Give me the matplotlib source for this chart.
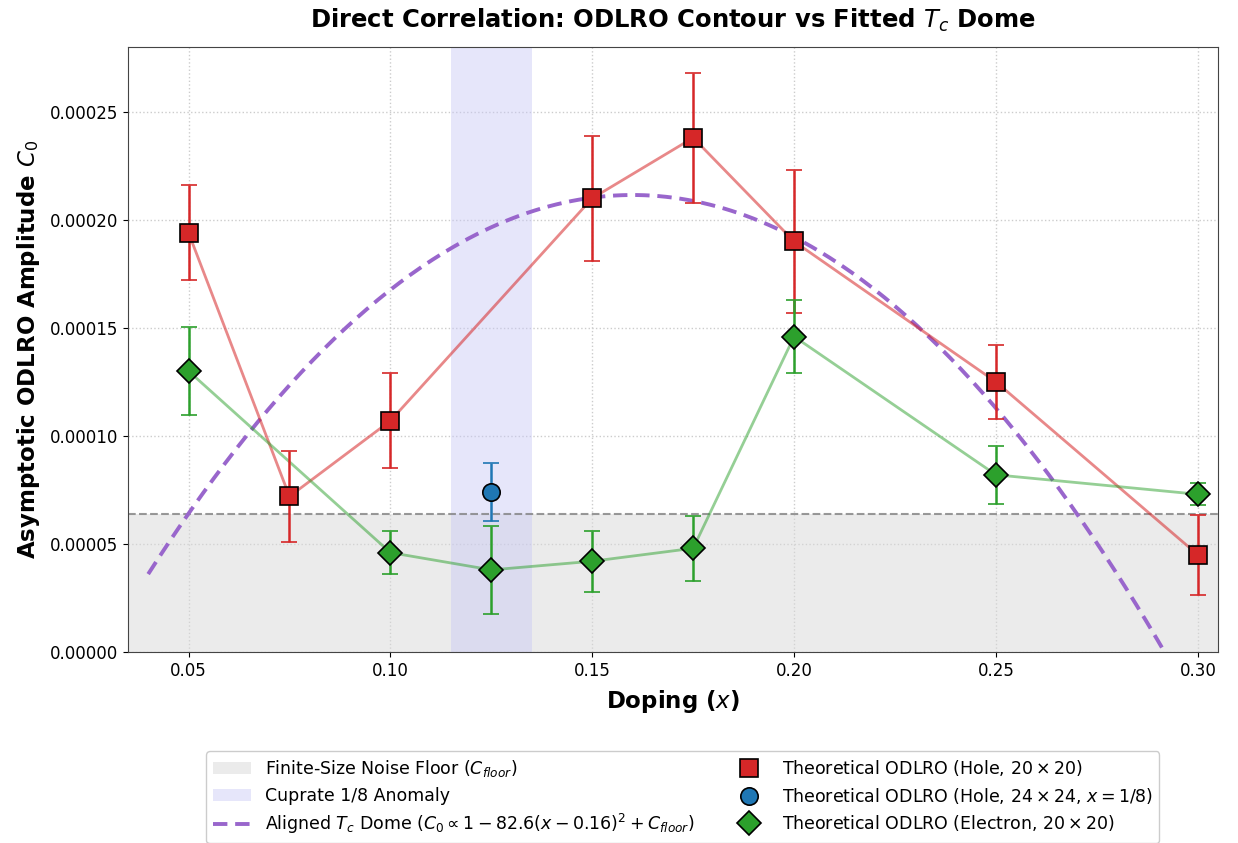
import numpy as np
import matplotlib
matplotlib.use("Agg")
import matplotlib.pyplot as plt
from matplotlib.container import ErrorbarContainer

# Hole-doped 20x20 results
hole_x = [0.05, 0.075, 0.10, 0.15, 0.175, 0.20, 0.25, 0.30]
hole_c0 = [1.94e-4, 7.2e-5, 1.07e-4, 2.10e-4, 2.38e-4, 1.90e-4, 1.25e-4, 4.5e-5]
hole_err = [2.2e-5, 2.1e-5, 2.2e-5, 2.9e-5, 3.0e-5, 3.3e-5, 1.7e-5, 1.85e-5]

# Hole-doped 24x24 at x = 1/8
big_x = [0.125]
big_c0 = [7.4e-5]
big_err = [1.35e-5]

# Electron-doped 20x20 results
elec_x = [0.05, 0.10, 0.125, 0.15, 0.175, 0.20, 0.25, 0.30]
elec_c0 = [1.30e-4, 4.6e-5, 3.8e-5, 4.2e-5, 4.8e-5, 1.46e-4, 8.2e-5, 7.3e-5]
elec_err = [2.05e-5, 1.0e-5, 2.05e-5, 1.4e-5, 1.5e-5, 1.7e-5, 1.35e-5, 5e-6]

c_floor = 6.4e-5
dome_amp = 1.475e-4
dome_curv = 82.6
dome_center = 0.16

fig = plt.figure(figsize=(12.38, 8.43), dpi=100)
ax = fig.add_axes([128 / 1238, 1 - 652 / 843, (1218 - 128) / 1238, (652 - 47) / 843])

ax.axhspan(0, c_floor, color="#d9d9d9", alpha=0.5, lw=0, label=r"Finite-Size Noise Floor ($C_{floor}$)")
ax.axhline(c_floor, color="gray", ls="--", lw=1.5, alpha=0.8)
ax.axvspan(0.115, 0.135, color="#c8c8f5", alpha=0.45, lw=0, label="Cuprate 1/8 Anomaly")

xd = np.linspace(0.04, 0.31, 300)
dome = dome_amp * (1 - dome_curv * (xd - dome_center) ** 2) + c_floor
ax.plot(xd, dome, ls="--", color="#9966cc", lw=2.8, dashes=(3.7, 2),
        label=r"Aligned $T_c$ Dome ($C_0 \propto 1 - 82.6(x - 0.16)^2 + C_{floor}$)")

ax.plot(hole_x, hole_c0, color="#d62728", alpha=0.55, lw=2, zorder=3)
ax.errorbar(hole_x, hole_c0, yerr=hole_err, fmt="s", color="#d62728", ms=13,
            mec="black", mew=1.2, ecolor="#d62728", elinewidth=1.8, capsize=6, capthick=1.8,
            alpha=1, zorder=5, label=r"Theoretical ODLRO (Hole, $20\times20$)")
ax.errorbar(big_x, big_c0, yerr=big_err, fmt="o", color="#1f77b4", ms=12.5,
            mec="black", mew=1.2, ecolor="#1f77b4", elinewidth=1.8, capsize=6, capthick=1.8,
            zorder=6, label=r"Theoretical ODLRO (Hole, $24\times24$, $x=1/8$)")
ax.plot(elec_x, elec_c0, color="#2ca02c", alpha=0.5, lw=2, zorder=3)
ax.errorbar(elec_x, elec_c0, yerr=elec_err, fmt="D", color="#2ca02c", ms=12.5,
            mec="black", mew=1.2, ecolor="#2ca02c", elinewidth=1.8, capsize=6, capthick=1.8,
            zorder=5, label=r"Theoretical ODLRO (Electron, $20\times20$)")

ax.set_xlim(0.035, 0.305)
ax.set_ylim(0, 0.00028)
ax.set_xticks([0.05, 0.10, 0.15, 0.20, 0.25, 0.30])
ax.set_xticklabels(["0.05", "0.10", "0.15", "0.20", "0.25", "0.30"])
ax.set_yticks(np.arange(0, 0.00026, 0.00005))
ax.set_yticklabels([f"{v:.5f}" for v in np.arange(0, 0.00026, 0.00005)])
ax.tick_params(labelsize=12)
ax.grid(True, ls=":", lw=1, color="#cccccc")
ax.set_axisbelow(True)
for s in ax.spines.values():
    s.set_color("#444444")

ax.set_xlabel(r"Doping ($x$)", fontsize=16.5, fontweight="bold", labelpad=6)
ax.set_ylabel(r"Asymptotic ODLRO Amplitude $C_0$", fontsize=16.5, fontweight="bold", labelpad=6)
ax.set_title(r"Direct Correlation: ODLRO Contour vs Fitted $T_c$ Dome", fontsize=17.5,
             fontweight="bold", pad=14)

# Legend shows plain markers for the error-bar series
handles, labels = ax.get_legend_handles_labels()
handles = [h[0] if isinstance(h, ErrorbarContainer) else h for h in handles]
ax.legend(handles, labels, loc="upper center", bbox_to_anchor=(0.509, -0.150), ncol=2,
          fontsize=12.5, frameon=True, edgecolor="#cccccc", framealpha=1, handlelength=2.2,
          columnspacing=2.0, borderpad=0.4, labelspacing=0.42)

fig.savefig("out.png", dpi=100)
